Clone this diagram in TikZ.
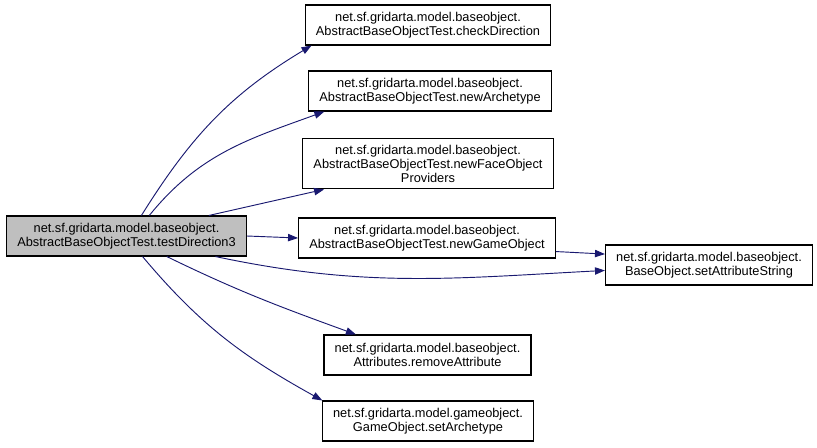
\documentclass[tikz,border=0pt]{standalone}
\usepackage{fontspec}
\setmainfont{Liberation Sans}
\usepackage{tikz}
\usepackage{xcolor}
\usetikzlibrary{arrows.meta}
\definecolor{call-blue}{HTML}{191970}
\tikzset{
    call-box/.style = {draw=black, fill=white, line width=0.8pt, rectangle, align=center, font=\fontsize{9.6}{10.5}\selectfont, inner xsep=8pt, inner ysep=5pt, minimum height=30pt},
    call-box-root/.style = {call-box, fill=black!25},
    call-edge/.style = {draw=call-blue, line width=0.7pt, -{Triangle[length=7.5pt, width=5.5pt, fill=call-blue]}},
}

\begin{document}
\begin{tikzpicture}[x=0.75pt, y=0.75pt]
\useasboundingbox (0,0) rectangle (817,447);
\node [call-box-root] (root) at (126.5,211) {net.sf.gridarta.model.baseobject.\\AbstractBaseObjectTest.testDirection3};
\node [call-box] (check) at (428,422) {net.sf.gridarta.model.baseobject.\\AbstractBaseObjectTest.checkDirection};
\node [call-box] (arch) at (430,356) {net.sf.gridarta.model.baseobject.\\AbstractBaseObjectTest.newArchetype};
\node [call-box] (face) at (428,283.5) {net.sf.gridarta.model.baseobject.\\AbstractBaseObjectTest.newFaceObject\\Providers};
\node [call-box] (game) at (427,209) {net.sf.gridarta.model.baseobject.\\AbstractBaseObjectTest.newGameObject};
\node [call-box] (attr) at (709,182) {net.sf.gridarta.model.baseobject.\\BaseObject.setAttributeString};
\node [call-box] (remove) at (427.5,92) {net.sf.gridarta.model.baseobject.\\Attributes.removeAttribute};
\node [call-box] (setarch) at (428,26) {net.sf.gridarta.model.gameobject.\\GameObject.setArchetype};

\draw [call-edge] (root.54) to[out=58, in=211] (check.190);
\draw [call-edge] (root.42) to[out=51, in=200] (arch.191);
\draw [call-edge] (root.14) -- (face.194);
\draw [call-edge] (root.east) -- (game.west);
\draw [call-edge] (game.-6) -- (attr.174);
\draw [call-edge] (root.-13) to[out=-12, in=183] (attr.183);
\draw [call-edge] (root.-27) to[out=-26, in=160] (remove.164);
\draw [call-edge] (root.-52) to[out=-50, in=151] (setarch.169);
\end{tikzpicture}
\end{document}
